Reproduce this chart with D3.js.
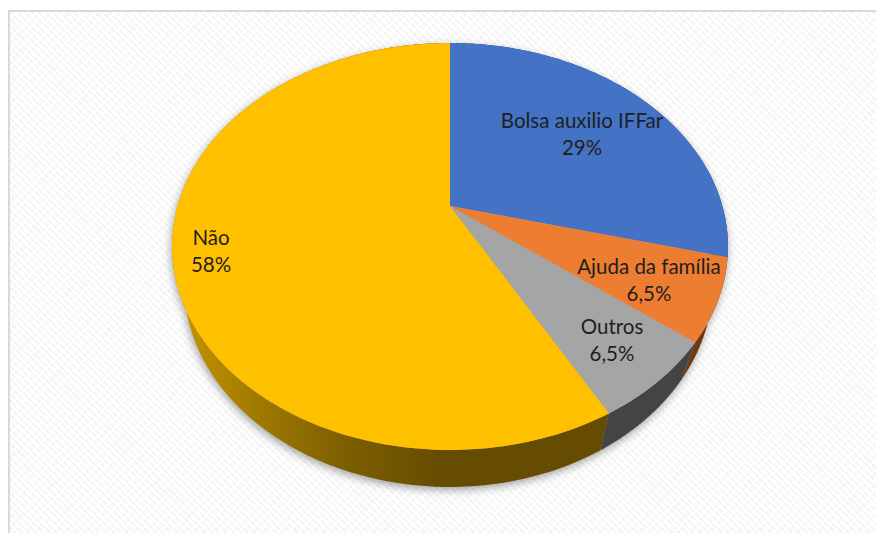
<!DOCTYPE html>
<html lang="pt">
<head>
<meta charset="utf-8">
<style>
html,body{margin:0;padding:0;background:#fff;overflow:hidden}
svg{display:block}
text{font-family:Lato,"Open Sans",sans-serif;font-size:20.5px;fill:#1f1f1f;text-anchor:middle}
</style>
</head>
<body>
<svg id="chart" width="876" height="533"></svg>
<script src="https://cdn.jsdelivr.net/npm/d3@7/dist/d3.min.js"></script>
<script>
// Fontes de auxílio declaradas, em porcentagem
const categories = ["Bolsa auxilio IFFar", "Ajuda da família", "Outros", "Não"];
const values = [29, 6.5, 6.5, 58];
const valueLabels = ["29%", "6,5%", "6,5%", "58%"];
const topColors = ["#4472c4", "#ed7d31", "#a5a5a5", "#ffc000"];
const wallColors = ["#2a4478", "#6f3a10", "#444444", "url(#wallGold)"];
const labelAnchors = [[582, 128], [649, 274], [612, 334], [211, 245]];

const W = 876, H = 533;
const svg = d3.select("#chart");

// Perspective disc: the unit circle seen from above, nearer edge larger.
// The underside rim is narrower than the top face and sits a fixed drop below it.
const view = {cx: 450, cy: 206, a: 272.4, b: 195.4, k: 0.199, depth: 37, rimLeft: 0.957, rimRight: 0.945};
const project = ang => {
  const x = Math.sin(ang), y = -Math.cos(ang), w = 1 - view.k * y;
  return [view.cx + view.a * x / w, view.cy + view.b * y / w];
};
const lower = ang => {
  const [x, y] = project(ang);
  const scale = x < view.cx ? view.rimLeft : view.rimRight;
  return [view.cx + (x - view.cx) * scale, y + view.depth];
};
const samples = (a0, a1) => d3.range(0, 121).map(i => a0 + (a1 - a0) * i / 120);
const line = d3.line();

const arcs = d3.pie().sort(null).value(d => d)(values);

// Background weave, wall gradient and blur
const defs = svg.append("defs");
const weave = defs.append("pattern").attr("id", "weave").attr("patternUnits", "userSpaceOnUse")
  .attr("width", 7).attr("height", 5).attr("patternTransform", "rotate(45)");
weave.append("rect").attr("width", 7).attr("height", 5).attr("fill", "#ffffff");
weave.append("rect").attr("width", 5.5).attr("height", 2.5).attr("fill", "#f3f3f3");

const wallGold = defs.append("linearGradient").attr("id", "wallGold")
  .attr("gradientUnits", "userSpaceOnUse")
  .attr("x1", 185).attr("x2", 440).attr("y1", 0).attr("y2", 0);
[[0, "#c29300"], [0.28, "#a07a00"], [0.6, "#7f6000"], [1, "#664c00"]].forEach(([o, c]) =>
  wallGold.append("stop").attr("offset", o).attr("stop-color", c));

defs.append("filter").attr("id", "soft").attr("x", "-10%").attr("y", "-10%")
  .attr("width", "120%").attr("height", "120%")
  .append("feGaussianBlur").attr("stdDeviation", 4);

svg.append("rect").attr("width", W).attr("height", H).attr("fill", "#fff");
svg.append("rect").attr("x", 9).attr("y", 11).attr("width", W - 9).attr("height", H - 11)
  .attr("fill", "url(#weave)");

// Plot frame: only the top and left edges fall inside the page
svg.append("path").attr("d", line([[9, H], [9, 11], [W, 11]]))
  .attr("fill", "none").attr("stroke", "#d9d9d9").attr("stroke-width", 2);

// Soft shadow under the disc
const whole = samples(0, 2 * Math.PI);
svg.append("path")
  .attr("d", line(whole.map(lower)) + "Z" + line(whole.map(project)) + "Z")
  .attr("transform", "translate(-1,3)")
  .attr("fill", "#000").attr("fill-rule", "nonzero").attr("opacity", 0.36).attr("filter", "url(#soft)");

// Side wall of each slice
svg.append("g").selectAll("path").data(arcs).join("path")
  .attr("d", d => {
    const s = samples(d.startAngle, d.endAngle);
    return line(s.map(project).concat(s.slice().reverse().map(lower))) + "Z";
  })
  .attr("fill", (d, i) => wallColors[i]);

// Top face of each slice
svg.append("g").selectAll("path").data(arcs).join("path")
  .attr("d", d => line([[view.cx, view.cy]].concat(samples(d.startAngle, d.endAngle).map(project))) + "Z")
  .attr("fill", (d, i) => topColors[i]);

// Two-line labels: category above, value below
const labels = svg.append("g").selectAll("text").data(categories).join("text");
labels.append("tspan").attr("x", (d, i) => labelAnchors[i][0]).attr("y", (d, i) => labelAnchors[i][1]).text(d => d);
labels.append("tspan").attr("x", (d, i) => labelAnchors[i][0]).attr("y", (d, i) => labelAnchors[i][1] + 27).text((d, i) => valueLabels[i]);
</script>
</body>
</html>
